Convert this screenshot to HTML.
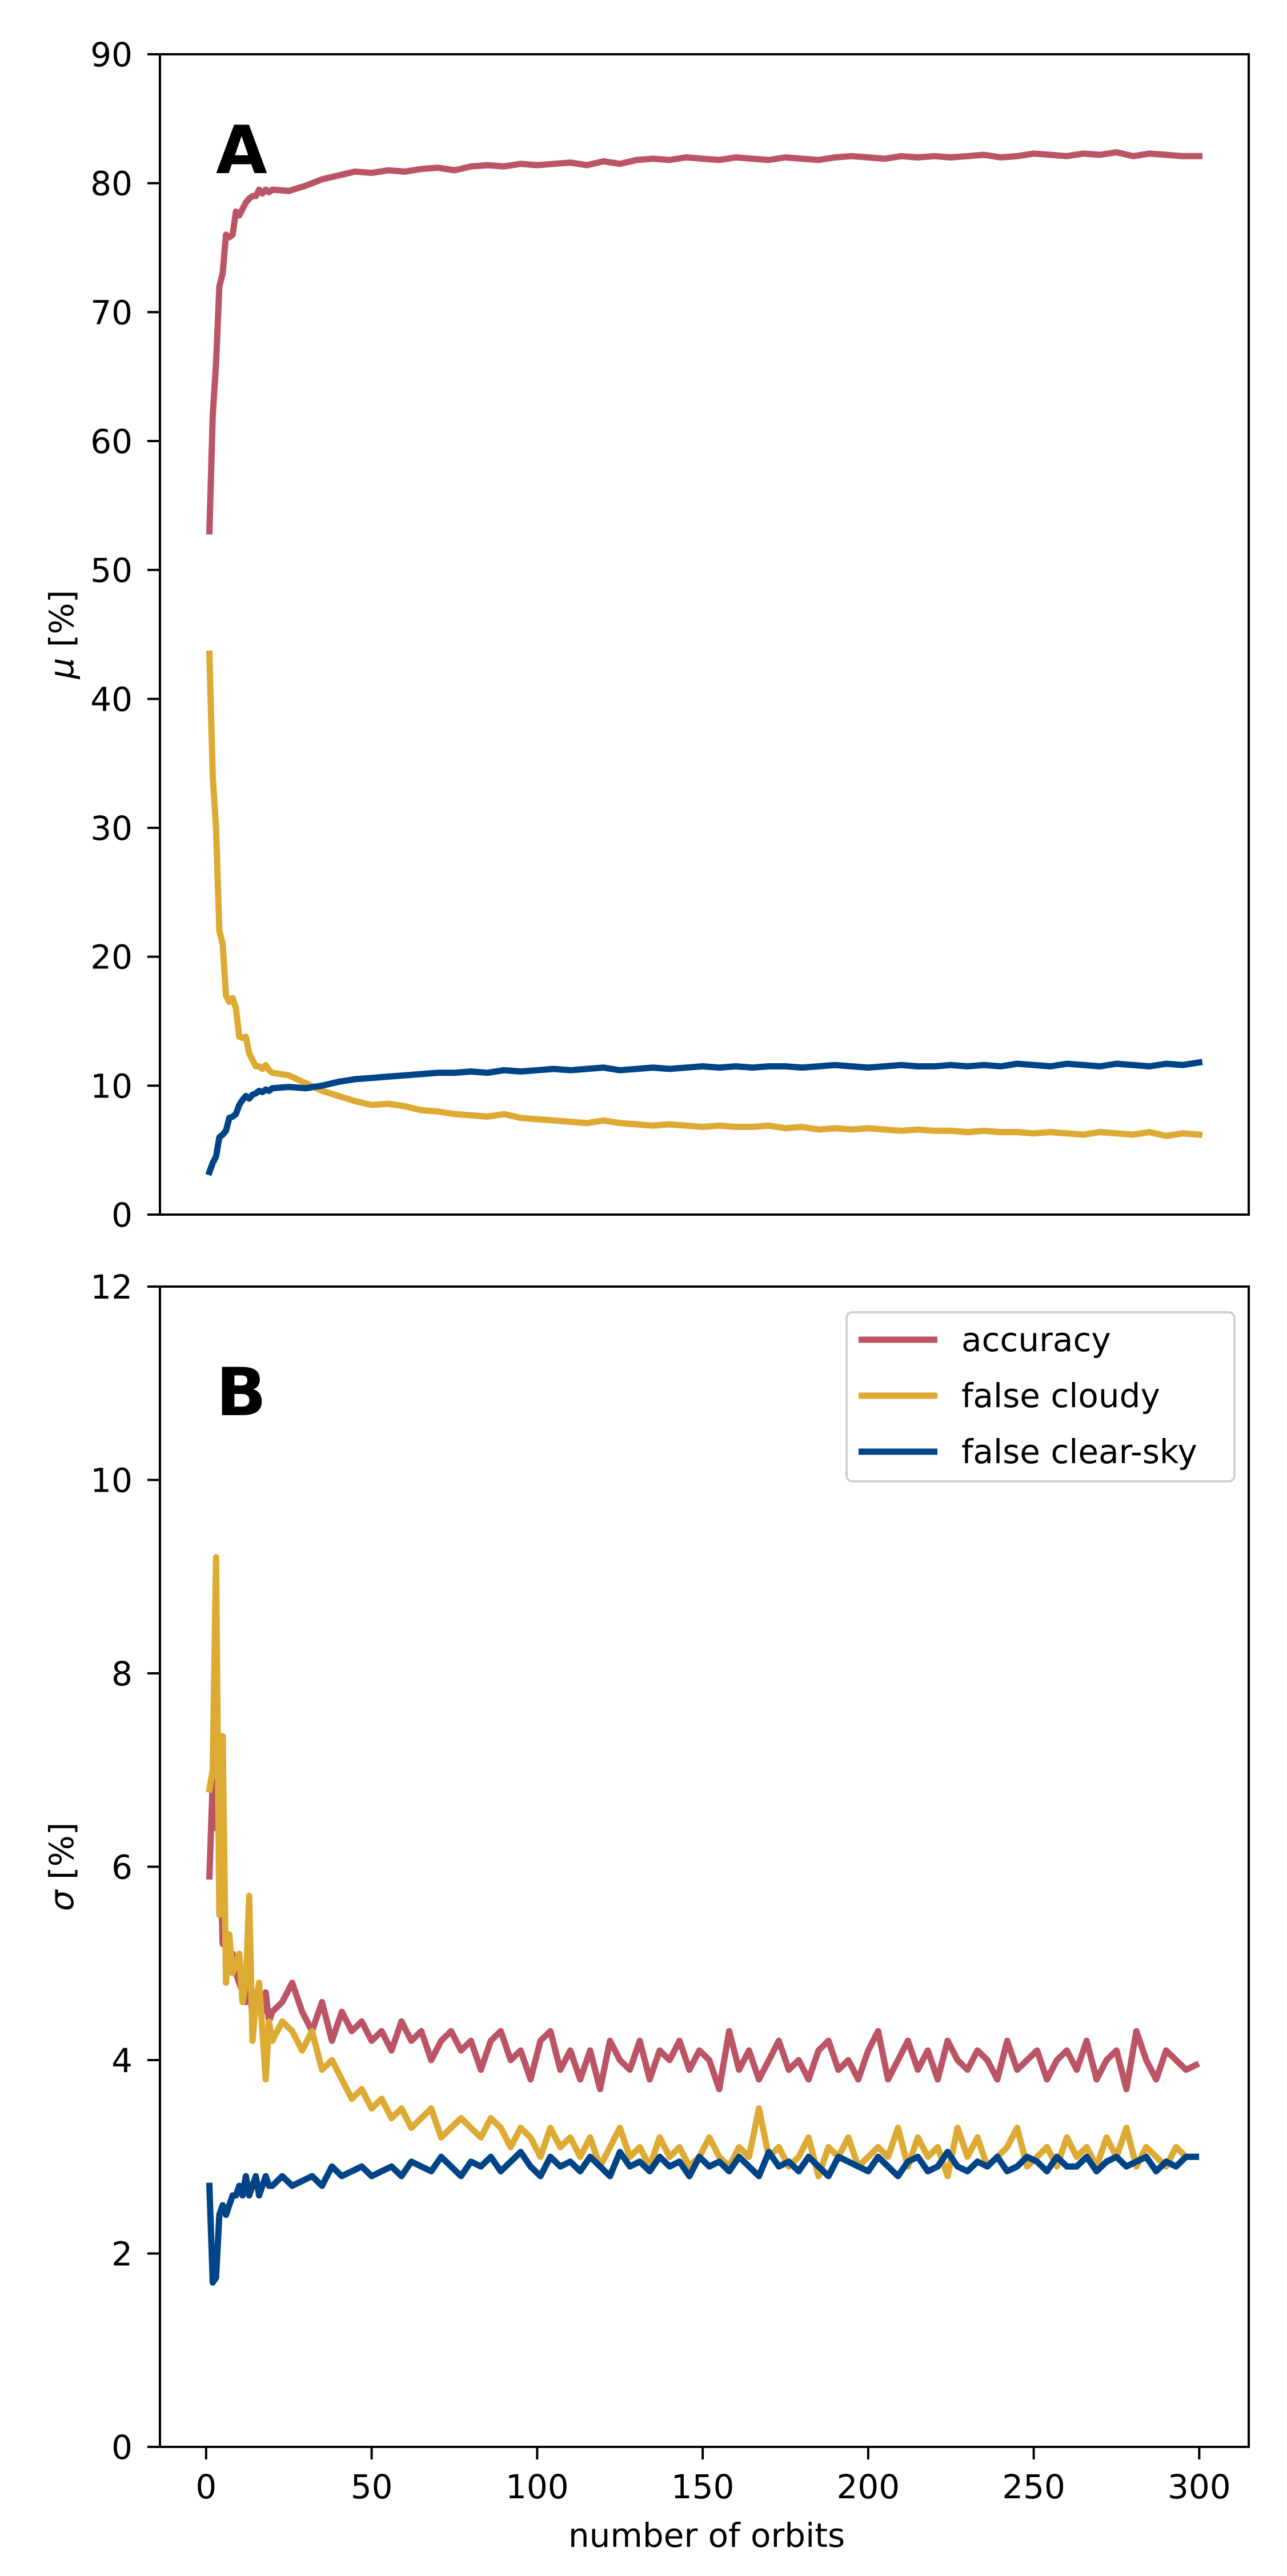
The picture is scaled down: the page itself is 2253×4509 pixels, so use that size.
<!DOCTYPE html>
<html><head><meta charset="utf-8"><style>
html,body{margin:0;padding:0;background:#fff}
svg{display:block}
text{font-family:"DejaVu Sans","Liberation Sans",sans-serif;fill:#000}
</style></head><body>
<svg id="fig" width="2253" height="4509" viewBox="0 0 2253 4509" xmlns="http://www.w3.org/2000/svg">
<rect width="2253" height="4509" fill="#fff"/>
<g id="panelA"></g>
<g id="panelB"></g>
</svg>
<script>
// ---- x categories (orbits) ----
const xTop = [1,2,3,4,5,6,7,8,9,10,11,12,13,14,15,16,17,18,19,20,
25,30,35,40,45,50,55,60,65,70,
75,80,85,90,95,100,105,110,115,120,
125,130,135,140,145,150,155,160,165,170,
175,180,185,190,195,200,205,210,215,220,
225,230,235,240,245,250,255,260,265,270,
275,280,285,290,295,300];
const accMu = [53,62,66,72,73,76,75.8,76,77.8,77.5,78,78.5,78.8,79,79,79.5,79.2,79.5,79.3,79.5,
79.4,79.8,80.3,80.6,80.9,80.8,81.0,80.9,81.1,81.2,
81.0,81.3,81.4,81.3,81.5,81.4,81.5,81.6,81.4,81.7,
81.5,81.8,81.9,81.8,82.0,81.9,81.8,82.0,81.9,81.8,
82.0,81.9,81.8,82.0,82.1,82.0,81.9,82.1,82.0,82.1,
82.0,82.1,82.2,82.0,82.1,82.3,82.2,82.1,82.3,82.2,
82.4,82.1,82.3,82.2,82.1,82.1];
const cloudyMu = [43.5,34,30,22,21,17,16.5,16.8,16,13.8,13.7,13.8,12.5,12,11.5,11.5,11.3,11.6,11.2,11.0,
10.8,10.2,9.6,9.2,8.8,8.5,8.6,8.4,8.1,8.0,
7.8,7.7,7.6,7.8,7.5,7.4,7.3,7.2,7.1,7.3,
7.1,7.0,6.9,7.0,6.9,6.8,6.9,6.8,6.8,6.9,
6.7,6.8,6.6,6.7,6.6,6.7,6.6,6.5,6.6,6.5,
6.5,6.4,6.5,6.4,6.4,6.3,6.4,6.3,6.2,6.4,
6.3,6.2,6.4,6.1,6.3,6.2];
const clearMu = [3.3,4.0,4.5,6.0,6.2,6.5,7.5,7.6,7.8,8.5,8.9,9.2,9.0,9.3,9.4,9.6,9.5,9.7,9.6,9.8,
9.9,9.8,10.0,10.3,10.5,10.6,10.7,10.8,10.9,11.0,
11.0,11.1,11.0,11.2,11.1,11.2,11.3,11.2,11.3,11.4,
11.2,11.3,11.4,11.3,11.4,11.5,11.4,11.5,11.4,11.5,
11.5,11.4,11.5,11.6,11.5,11.4,11.5,11.6,11.5,11.5,
11.6,11.5,11.6,11.5,11.7,11.6,11.5,11.7,11.6,11.5,
11.7,11.6,11.5,11.7,11.6,11.8];

const xBot = [1,2,3,4,5,6,7,8,9,10,11,12,13,14,15,16,17,18,19,20,
23,26,29,32,35,38,41,44,47,50,
53,56,59,62,65,68,71,74,77,80,
83,86,89,92,95,98,101,104,107,110,
113,116,119,122,125,128,131,134,137,140,
143,146,149,152,155,158,161,164,167,170,
173,176,179,182,185,188,191,194,197,200,
203,206,209,212,215,218,221,224,227,230,
233,236,239,242,245,248,251,254,257,260,
263,266,269,272,275,278,281,284,287,290,
293,296,299];
const accSd = [5.9,6.9,6.4,6.4,5.2,5.3,5.0,5.1,4.9,4.8,4.7,4.6,4.9,4.4,4.7,4.6,4.5,4.7,4.4,4.5,
4.6,4.8,4.5,4.3,4.6,4.2,4.5,4.3,4.4,4.2,
4.3,4.1,4.4,4.2,4.3,4.0,4.2,4.3,4.1,4.2,
3.9,4.2,4.3,4.0,4.1,3.8,4.2,4.3,3.9,4.1,
3.8,4.1,3.7,4.2,4.0,3.9,4.2,3.8,4.1,4.0,
4.2,3.9,4.1,4.0,3.7,4.3,3.9,4.1,3.8,4.0,
4.2,3.9,4.0,3.8,4.1,4.2,3.9,4.0,3.8,4.1,
4.3,3.8,4.0,4.2,3.9,4.1,3.8,4.2,4.0,3.9,
4.1,4.0,3.8,4.2,3.9,4.0,4.1,3.8,4.0,4.1,
3.9,4.2,3.8,4.0,4.1,3.7,4.3,4.0,3.8,4.1,
4.0,3.9,3.95];
const cloudySd = [6.8,7.0,9.2,5.5,7.35,4.8,5.3,4.9,5.0,5.1,4.6,4.8,5.7,4.2,4.6,4.8,4.3,3.8,4.4,4.2,
4.4,4.3,4.1,4.3,3.9,4.0,3.8,3.6,3.7,3.5,
3.6,3.4,3.5,3.3,3.4,3.5,3.2,3.3,3.4,3.3,
3.2,3.4,3.3,3.1,3.3,3.2,3.0,3.3,3.1,3.2,
3.0,3.2,2.9,3.1,3.3,3.0,3.1,2.9,3.2,3.0,
3.1,2.9,3.0,3.2,3.0,2.9,3.1,3.0,3.5,3.0,
3.1,2.9,3.0,3.2,2.8,3.1,3.0,3.2,2.9,3.0,
3.1,3.0,3.3,2.9,3.2,3.0,3.1,2.8,3.3,3.0,
3.2,2.9,3.0,3.1,3.3,2.9,3.0,3.1,2.9,3.2,
3.0,3.1,2.9,3.2,3.0,3.3,2.9,3.1,3.0,2.9,
3.1,3.0,3.0];
const clearSd = [2.7,1.7,1.75,2.4,2.5,2.4,2.5,2.6,2.6,2.7,2.6,2.8,2.6,2.7,2.8,2.6,2.7,2.8,2.7,2.7,
2.8,2.7,2.75,2.8,2.7,2.9,2.8,2.85,2.9,2.8,
2.85,2.9,2.8,2.95,2.9,2.85,3.0,2.9,2.8,2.95,
2.9,3.0,2.85,2.95,3.05,2.9,2.8,3.0,2.9,2.95,
2.85,3.0,2.9,2.8,3.05,2.9,2.95,2.85,3.0,2.9,
2.95,2.8,3.0,2.9,2.95,2.85,3.0,2.9,2.8,3.05,
2.9,2.95,2.85,3.0,2.9,2.8,3.0,2.95,2.9,2.85,
3.0,2.9,2.8,2.95,3.0,2.85,2.9,3.05,2.9,2.85,
2.95,2.9,3.0,2.85,2.9,3.0,2.95,2.85,3.0,2.9,
2.9,3.0,2.85,2.95,3.0,2.9,2.95,3.0,2.85,2.95,
2.9,3.0,3.0];

const xTicks = [0,50,100,150,200,250,300];
const yTicksTop = [0,10,20,30,40,50,60,70,80,90];
const yTicksBot = [0,2,4,6,8,10,12];
const seriesNames = ["accuracy","false cloudy","false clear-sky"];
const seriesColors = ["#bb5566","#ddaa33","#004488"];

const NS = "http://www.w3.org/2000/svg";
const L = 280, R = 2186;
const xMin = -13.95, xMax = 314.95;
function xs(v){ return L + (v - xMin) / (xMax - xMin) * (R - L); }
function mk(tag, attrs, parent){
  const e = document.createElementNS(NS, tag);
  for (const k in attrs) e.setAttribute(k, attrs[k]);
  parent.appendChild(e); return e;
}

function drawPanel(g, top, bot, yMax, yTicks, xVals, series, showX, letter, letterY, ylabelSym, key){
  const ys = v => bot - v / yMax * (bot - top);
  series.forEach((s, i) => {
    let d = "";
    const n = Math.min(xVals.length, s.length);
    for (let j = 0; j < n; j++) d += (j ? "L" : "M") + xs(xVals[j]).toFixed(1) + "," + ys(s[j]).toFixed(1);
    const p = mk("path", {d: d, fill: "none", stroke: seriesColors[i], "stroke-width": 11, "stroke-linejoin": "round", "stroke-linecap": "square"}, g);
    
    
  });
  const fr = mk("rect", {x: L, y: top, width: R - L, height: bot - top, fill: "none", stroke: "#000", "stroke-width": 4}, g);
  
  
  yTicks.forEach(t => {
    const y = ys(t);
    const tl = mk("line", {x1: L - 22, x2: L, y1: y, y2: y, stroke: "#000", "stroke-width": 4}, g);
    
    
    const tx = mk("text", {x: 232, y: y + 21, "text-anchor": "end", "font-size": 58}, g);
    tx.textContent = t;
    
    
  });
  if (showX){
    xTicks.forEach(t => {
      const x = xs(t);
      const tl = mk("line", {x1: x, x2: x, y1: bot, y2: bot + 22, stroke: "#000", "stroke-width": 4}, g);
      
      
      const tx = mk("text", {x: x, y: 4373, "text-anchor": "middle", "font-size": 58}, g);
      tx.textContent = t;
      
      
    });
  }
  const lt = mk("text", {x: 378, y: letterY, "font-size": 116, "font-weight": "bold"}, g);
  lt.textContent = letter;
  
  
  const cy = (top + bot) / 2;
  const yl = mk("text", {x: 0, y: 0, "text-anchor": "middle", "font-size": 58, transform: "translate(128," + cy + ") rotate(-90)"}, g);
  
  
  const sy = mk("tspan", {"font-style": "italic"}, yl); sy.textContent = ylabelSym;
  const rest = mk("tspan", {}, yl); rest.textContent = " [%]";
}

const gA = document.getElementById("panelA");
drawPanel(gA, 95, 2126, 90, yTicksTop, xTop, [accMu, cloudyMu, clearMu], false, "A", 303, "\u03bc", "panel-a");
const gB = document.getElementById("panelB");
drawPanel(gB, 2252, 4283, 12, yTicksBot, xBot, [accSd, cloudySd, clearSd], true, "B", 2477, "\u03c3", "panel-b");

const svg = document.getElementById("fig");
const xl = mk("text", {x: 1237, y: 4458, "text-anchor": "middle", "font-size": 58}, svg);
xl.textContent = "number of orbits";



const lg = mk("g", {}, svg);


const lb = mk("rect", {x: 1482, y: 2297, width: 679, height: 296, rx: 10, fill: "#fff", "fill-opacity": 0.8, stroke: "#d0d0d0", "stroke-width": 4}, lg);


seriesNames.forEach((nm, i) => {
  const y = 2345 + i * 98;
  const ln = mk("line", {x1: 1503, x2: 1641, y1: y, y2: y, stroke: seriesColors[i], "stroke-width": 11}, lg);
  
  
  const tx = mk("text", {x: 1683, y: y + 20, "font-size": 58}, lg);
  tx.textContent = nm;
  
  
});
</script>
</body></html>
